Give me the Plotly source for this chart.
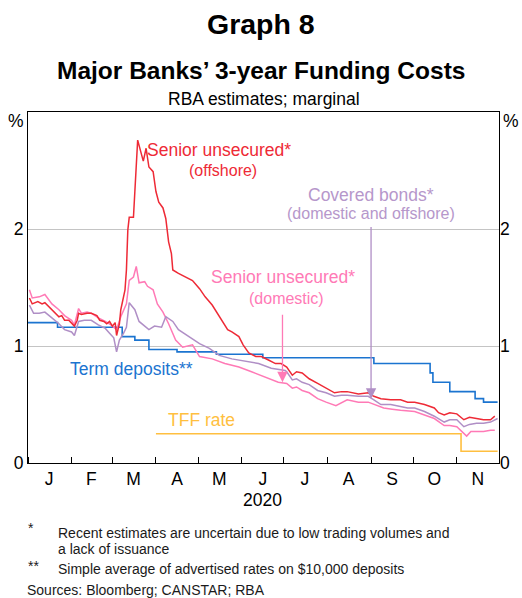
import plotly.graph_objects as go

# ---------------- data ----------------
red_dates = ["2020-01-02","2020-01-04","2020-01-08","2020-01-11","2020-01-13","2020-01-17","2020-01-20","2020-01-23","2020-01-25","2020-01-27",
             "2020-01-30","2020-02-01","2020-02-03","2020-02-05","2020-02-06","2020-02-08","2020-02-12","2020-02-15","2020-02-19","2020-02-21",
             "2020-02-24","2020-02-26","2020-02-28","2020-03-01","2020-03-03","2020-03-04","2020-03-06","2020-03-07","2020-03-10","2020-03-11",
             "2020-03-12","2020-03-13","2020-03-16","2020-03-19","2020-03-23","2020-03-25","2020-03-27","2020-03-30","2020-04-01","2020-04-03",
             "2020-04-06","2020-04-08","2020-04-10","2020-04-12","2020-04-13","2020-04-17","2020-04-22","2020-04-27","2020-05-02","2020-05-06",
             "2020-05-11","2020-05-16","2020-05-22","2020-05-25","2020-05-30","2020-06-02","2020-06-06","2020-06-11","2020-06-15","2020-06-20",
             "2020-06-25","2020-06-29","2020-07-03","2020-07-07","2020-07-10","2020-07-14","2020-07-19","2020-07-25","2020-07-31","2020-08-06",
             "2020-08-11","2020-08-15","2020-08-23","2020-08-30","2020-09-03","2020-09-08","2020-09-15","2020-09-22","2020-09-27","2020-10-02",
             "2020-10-09","2020-10-16","2020-10-19","2020-10-23","2020-10-27","2020-11-01","2020-11-06","2020-11-10","2020-11-15","2020-11-20",
             "2020-11-25","2020-11-28"]
red_vals = [1.41,1.36,1.38,1.36,1.37,1.32,1.29,1.25,1.26,1.22,
            1.22,1.19,1.17,1.22,1.28,1.27,1.28,1.28,1.26,1.22,
            1.21,1.19,1.21,1.17,1.20,1.09,1.19,1.31,1.48,1.65,
            1.99,2.10,2.10,2.76,2.58,2.69,2.53,2.49,2.32,2.23,
            2.18,2.09,1.89,1.79,1.65,1.62,1.59,1.56,1.49,1.42,
            1.35,1.25,1.14,1.12,1.08,1.01,0.94,0.91,0.91,0.88,
            0.85,0.85,0.82,0.75,0.78,0.77,0.72,0.68,0.64,0.60,
            0.61,0.61,0.59,0.60,0.57,0.55,0.54,0.54,0.52,0.52,
            0.50,0.47,0.43,0.41,0.43,0.42,0.37,0.39,0.38,0.37,
            0.37,0.40]

pink_dates = ["2020-01-02","2020-01-04","2020-01-09","2020-01-13","2020-01-18","2020-01-23","2020-01-27","2020-02-01","2020-02-03","2020-02-06",
              "2020-02-08","2020-02-12","2020-02-15","2020-02-20","2020-02-25","2020-02-29","2020-03-04","2020-03-07","2020-03-11","2020-03-13",
              "2020-03-16","2020-03-18","2020-03-20","2020-03-24","2020-03-26","2020-03-30","2020-04-02","2020-04-06","2020-04-10","2020-04-15",
              "2020-04-20","2020-04-27","2020-05-02","2020-05-11","2020-05-20","2020-05-30","2020-06-08","2020-06-17","2020-06-27","2020-07-03",
              "2020-07-07","2020-07-10","2020-07-14","2020-07-19","2020-07-25","2020-07-31","2020-08-07","2020-08-15","2020-08-23","2020-08-30",
              "2020-09-04","2020-09-10","2020-09-16","2020-09-22","2020-10-02","2020-10-09","2020-10-16","2020-10-23","2020-10-27","2020-11-01",
              "2020-11-08","2020-11-11","2020-11-15","2020-11-20","2020-11-25","2020-11-28"]
pink_vals = [1.48,1.41,1.42,1.44,1.36,1.31,1.26,1.22,1.18,1.32,
             1.28,1.29,1.28,1.24,1.21,1.18,1.14,1.25,1.36,1.56,
             1.59,1.68,1.54,1.55,1.51,1.48,1.36,1.29,1.19,1.05,
             0.99,1.01,0.91,0.89,0.85,0.82,0.78,0.74,0.69,0.68,
             0.64,0.65,0.62,0.60,0.55,0.52,0.49,0.54,0.52,0.52,
             0.50,0.47,0.46,0.45,0.44,0.41,0.38,0.32,0.32,0.31,
             0.23,0.27,0.27,0.27,0.28,0.28]

purple_dates = ["2020-01-02","2020-01-05","2020-01-09","2020-01-13","2020-01-18","2020-01-23","2020-01-27","2020-02-01","2020-02-03","2020-02-06",
                "2020-02-10","2020-02-15","2020-02-20","2020-02-25","2020-02-28","2020-03-02","2020-03-04","2020-03-06","2020-03-09","2020-03-11",
                "2020-03-13","2020-03-17","2020-03-20","2020-03-24","2020-03-27","2020-03-31","2020-04-05","2020-04-08","2020-04-13","2020-04-17",
                "2020-04-25","2020-05-02","2020-05-09","2020-05-16","2020-05-25","2020-06-04","2020-06-13","2020-06-22","2020-07-02","2020-07-03",
                "2020-07-07","2020-07-10","2020-07-14","2020-07-19","2020-07-25","2020-07-31","2020-08-06","2020-08-11","2020-08-15","2020-08-23",
                "2020-08-30","2020-09-03","2020-09-08","2020-09-15","2020-09-22","2020-09-27","2020-10-02","2020-10-09","2020-10-16","2020-10-23",
                "2020-10-27","2020-11-01","2020-11-06","2020-11-10","2020-11-15","2020-11-20","2020-11-25","2020-11-30"]
purple_vals = [1.35,1.28,1.28,1.29,1.24,1.19,1.14,1.12,1.09,1.21,
               1.22,1.22,1.18,1.15,1.11,1.07,0.95,1.05,1.11,1.16,
               1.37,1.31,1.21,1.17,1.14,1.17,1.16,1.25,1.21,1.14,
               1.08,1.02,0.98,0.92,0.89,0.87,0.85,0.81,0.79,0.78,
               0.71,0.72,0.69,0.67,0.62,0.60,0.57,0.58,0.58,0.57,
               0.57,0.54,0.50,0.50,0.48,0.47,0.47,0.44,0.40,0.35,
               0.37,0.37,0.31,0.33,0.34,0.34,0.35,0.38]

term_dates = ["2020-01-01","2020-01-22","2020-03-08","2020-03-17","2020-03-27","2020-04-16","2020-05-14","2020-06-16",
              "2020-09-03","2020-10-13","2020-10-15","2020-10-27","2020-11-14","2020-11-20","2020-11-30"]
term_vals = [1.20,1.16,1.08,1.05,0.97,0.95,0.93,0.90,
             0.85,0.77,0.69,0.61,0.55,0.52,0.52]

tff_dates = ["2020-04-01","2020-11-04","2020-11-30"]
tff_vals = [0.25,0.10,0.10]

month_mid = ["2020-01-16","2020-02-15","2020-03-16","2020-04-16","2020-05-16","2020-06-16",
             "2020-07-16","2020-08-16","2020-09-16","2020-10-16","2020-11-16"]
month_letters = ["J","F","M","A","M","J","J","A","S","O","N"]
month_starts = ["2020-01-01","2020-02-01","2020-03-01","2020-04-01","2020-05-01","2020-06-01",
                "2020-07-01","2020-08-01","2020-09-01","2020-10-01","2020-11-01","2020-12-01"]
y_ticks = [0, 1, 2]

# ---------------- style ----------------
RED = "#ee2a36"
PINK = "#ff7ab6"
PURPLE = "#b08fc6"
PURPLE_TXT = "#b697cb"
BLUE = "#1b74d0"
ORANGE = "#ffbf40"
FONT = "Arial, Liberation Sans, sans-serif"

W, H = 522, 598
L, R, T, B = 28, 20, 112, 135
PW, PH = W - L - R, H - T - B


def px(x):
    return (x - L) / PW


def py(y):
    return (H - B - y) / PH


fig = go.Figure()
fig.add_trace(go.Scatter(x=tff_dates, y=tff_vals, mode="lines", line=dict(color=ORANGE, width=1.6, shape="hv"), yaxis="y2"))
fig.add_trace(go.Scatter(x=term_dates, y=term_vals, mode="lines", line=dict(color=BLUE, width=1.6, shape="hv")))
fig.add_trace(go.Scatter(x=pink_dates, y=pink_vals, mode="lines", line=dict(color=PINK, width=1.5)))
fig.add_trace(go.Scatter(x=purple_dates, y=purple_vals, mode="lines", line=dict(color=PURPLE, width=1.5)))
fig.add_trace(go.Scatter(x=red_dates, y=red_vals, mode="lines", line=dict(color=RED, width=1.5)))

ann = []


def txt(x, y, s, size=17.5, color="black", bold=False, xanchor="center"):
    if bold:
        s = "<b>" + s + "</b>"
    ann.append(dict(x=px(x), y=py(y), xref="paper", yref="paper", text=s, showarrow=False,
                    xanchor=xanchor, yanchor="middle", font=dict(size=size, color=color, family=FONT)))


txt(262, 24, "Graph 8", size=28.5, bold=True)
txt(262, 70, "Major Banks’ 3-year Funding Costs", size=24.5, bold=True)
txt(266, 99, "RBA estimates; marginal", size=17.5)
txt(16, 121, "%", size=17.5)
txt(514, 121, "%", size=17.5)
txt(264, 500, "2020", size=17.5)

txt(220, 150, "Senior unsecured*", color=RED)
txt(224, 170, "(offshore)", size=16, color=RED)
txt(373, 195, "Covered bonds*", color=PURPLE_TXT)
txt(373, 213, "(domestic and offshore)", size=16, color=PURPLE_TXT)
txt(285, 277, "Senior unsecured*", color=PINK)
txt(288, 298, "(domestic)", size=16, color=PINK)
txt(132, 369, "Term deposits**", color=BLUE)
txt(203, 420, "TFF rate", color=ORANGE)

FN = "#1a1a1a"
txt(26, 528, "*", size=14, color=FN, xanchor="left")
txt(56, 533, "Recent estimates are uncertain due to low trading volumes and", size=14, color=FN, xanchor="left")
txt(56, 549, "a lack of issuance", size=14, color=FN, xanchor="left")
txt(26, 566, "**", size=14, color=FN, xanchor="left")
txt(56, 569, "Simple average of advertised rates on $10,000 deposits", size=14, color=FN, xanchor="left")
txt(25, 590, "Sources: Bloomberg; CANSTAR; RBA", size=14, color=FN, xanchor="left")

# arrows
ann.append(dict(x="2020-06-30", y=0.69, ax="2020-06-30", ay=1.28, xref="x", yref="y", axref="x", ayref="y",
                text="", showarrow=True, arrowhead=2, arrowsize=1.6, arrowwidth=1.3, arrowcolor=PINK))
ann.append(dict(x="2020-09-01", y=0.55, ax="2020-09-01", ay=2.03, xref="x", yref="y", axref="x", ayref="y",
                text="", showarrow=True, arrowhead=2, arrowsize=1.6, arrowwidth=1.3, arrowcolor=PURPLE))

fig.update_layout(
    width=W, height=H,
    margin=dict(l=L, r=R, t=T, b=B, pad=0),
    paper_bgcolor="white", plot_bgcolor="white",
    showlegend=False,
    font=dict(family=FONT, size=17.5, color="black"),
    annotations=ann,
    xaxis=dict(type="date", range=["2020-01-01", "2020-12-01"],
               tickmode="array", tickvals=month_mid, ticktext=month_letters, ticks="",
               tickfont=dict(size=17.5), showgrid=False, zeroline=False,
               showline=True, linecolor="black", linewidth=1, mirror=True,
               minor=dict(tickmode="array", tickvals=month_starts, ticks="inside", ticklen=6,
                          tickcolor="black", tickwidth=1, showgrid=False)),
    yaxis=dict(range=[0, 3], tickmode="array", tickvals=y_ticks, ticks="", tickfont=dict(size=17.5),
               showgrid=True, gridcolor="#c4c4c4", gridwidth=1, zeroline=False,
               showline=True, linecolor="black", linewidth=1, mirror=True),
    yaxis2=dict(range=[0, 3], overlaying="y", side="right", tickmode="array", tickvals=y_ticks, ticks="",
                tickfont=dict(size=17.5), showgrid=False, zeroline=False, showline=False),
)

fig.write_html("out.html", config={"displayModeBar": False},
               post_script="document.body.style.margin='0';document.body.style.overflow='hidden';")
